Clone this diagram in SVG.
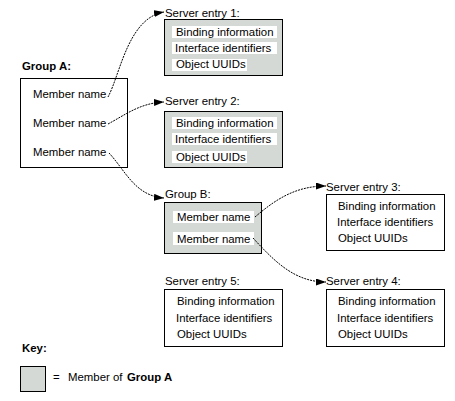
<svg xmlns="http://www.w3.org/2000/svg" width="455" height="401" viewBox="0 0 455 401">
<style>
text{font-family:"Liberation Sans",Arial,sans-serif;font-size:11.4px;fill:#000}
.b{font-weight:bold}
.box{fill:#fff;stroke:#000;stroke-width:1}
.gbox{fill:#d5d9d5;stroke:#000;stroke-width:1}
.w{fill:#fff}
.c{fill:none;stroke:#000;stroke-width:1;stroke-dasharray:2,1}
</style>
<defs>
<marker id="ah" markerUnits="userSpaceOnUse" markerWidth="11" markerHeight="8" refX="10" refY="3.5" orient="auto">
<path d="M0,0 L10,3.5 L0,7 z" fill="#000"/>
</marker>
</defs>
<rect width="455" height="401" fill="#fff"/>
<g id="groupA">
<text class="b" x="22" y="70">Group A:</text>
<rect class="box" x="20.5" y="78.5" width="107" height="89"/>
<text x="33" y="98">Member name</text>
<text x="33" y="127">Member name</text>
<text x="33" y="156">Member name</text>
</g>
<g id="server1">
<text x="165" y="17">Server entry 1:</text>
<rect class="gbox" x="164.5" y="19.5" width="118" height="56"/>
<rect class="w" x="172" y="26" width="105" height="12"/>
<rect class="w" x="172" y="42" width="105" height="12"/>
<rect class="w" x="172" y="59" width="75" height="12"/>
<text x="176" y="36">Binding information</text>
<text x="175" y="52">Interface identifiers</text>
<text x="176" y="68">Object UUIDs</text>
</g>
<g id="server2">
<text x="165" y="105">Server entry 2:</text>
<rect class="gbox" x="164.5" y="111.5" width="118" height="56"/>
<rect class="w" x="172" y="117" width="105" height="12"/>
<rect class="w" x="172" y="133" width="105" height="12"/>
<rect class="w" x="172" y="151" width="75" height="12"/>
<text x="176" y="127">Binding information</text>
<text x="175" y="143">Interface identifiers</text>
<text x="176" y="161">Object UUIDs</text>
</g>
<g id="groupB">
<text x="165" y="198">Group B:</text>
<rect class="gbox" x="164.5" y="202.5" width="97" height="51"/>
<rect class="w" x="173" y="211" width="81" height="12"/>
<rect class="w" x="173" y="232" width="81" height="13"/>
<text x="177" y="221">Member name</text>
<text x="177" y="243">Member name</text>
</g>
<g id="server3">
<text x="326" y="191">Server entry 3:</text>
<rect class="box" x="326.5" y="194.5" width="118" height="56"/>
<text x="338" y="210">Binding information</text>
<text x="337" y="226">Interface identifiers</text>
<text x="338" y="242">Object UUIDs</text>
</g>
<g id="server5">
<text x="165" y="285">Server entry 5:</text>
<rect class="box" x="164.5" y="289.5" width="118" height="57"/>
<text x="177" y="305">Binding information</text>
<text x="176" y="322">Interface identifiers</text>
<text x="177" y="338">Object UUIDs</text>
</g>
<g id="server4">
<text x="326" y="285">Server entry 4:</text>
<rect class="box" x="326.5" y="289.5" width="118" height="57"/>
<text x="338" y="305">Binding information</text>
<text x="337" y="322">Interface identifiers</text>
<text x="338" y="338">Object UUIDs</text>
</g>
<g id="key">
<text class="b" x="22" y="352">Key:</text>
<rect class="gbox" x="20.5" y="366.5" width="25" height="25"/>
<text x="53" y="381">=</text>
<text x="68" y="381">Member of</text>
<text class="b" x="127" y="381">Group A</text>
</g>
<g id="connectors">
<path class="c" d="M108,97 C120,75 128,18 164,12" marker-end="url(#ah)"/>
<path class="c" d="M108,124 C125,115 140,103 164,102" marker-end="url(#ah)"/>
<path class="c" d="M109,153 C125,170 135,196 164,198" marker-end="url(#ah)"/>
<path class="c" d="M255,217 C275,200 295,186 326,186" marker-end="url(#ah)"/>
<path class="c" d="M253,238 C275,262 295,282 326,282" marker-end="url(#ah)"/>
</g>
</svg>
